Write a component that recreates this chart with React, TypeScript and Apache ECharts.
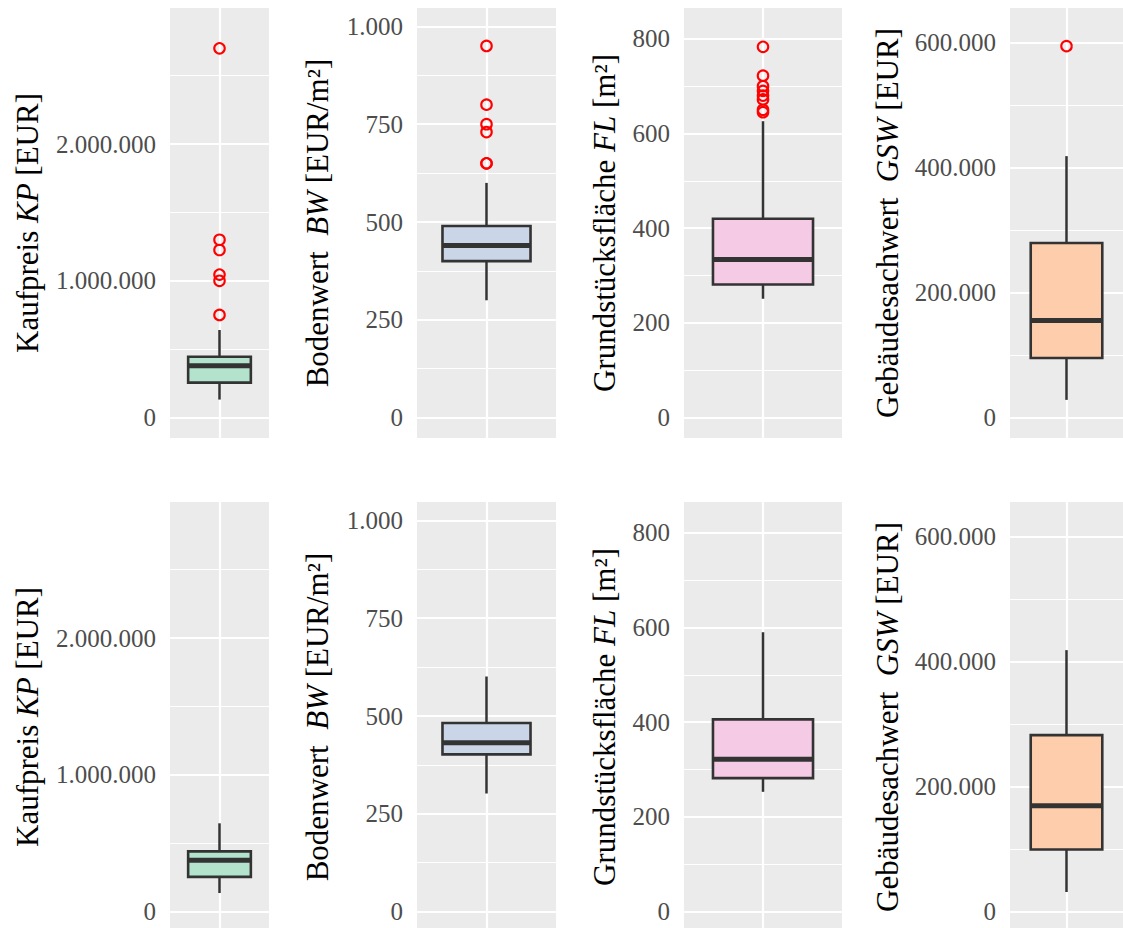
import React, { useEffect, useRef } from "react";
import * as echarts from "echarts";

// ---- data ----
const panelNames = ["KP", "BW", "FL", "GSW"];
const fillColors = ["#B3E2CD", "#CBD5E8", "#F4CAE4", "#FDCDAC"];
const titlePre = ["Kaufpreis ", "Bodenwert  ", "Grundstücksfläche ", "Gebäudesachwert  "];
const titleVar = ["KP", "BW", "FL", "GSW"];
const titlePost = [" [EUR]", " [EUR/m²]", " [m²]", " [EUR]"];

// [lower whisker, Q1, median, Q3, upper whisker]
const boxTopKP = [131000, 255000, 378000, 444000, 640000];
const boxTopBW = [300, 400, 440, 490, 600];
const boxTopFL = [251, 281, 334, 420, 626];
const boxTopGSW = [28000, 95000, 155000, 279000, 418000];

const boxBottomKP = [135000, 253000, 375000, 440000, 645000];
const boxBottomBW = [302, 402, 432, 482, 601];
const boxBottomFL = [253, 282, 322, 406, 590];
const boxBottomGSW = [31000, 99000, 169000, 282000, 418000];

const outliersKP = [2700000, 1300000, 1225000, 1045000, 1000000, 750000];
const outliersBW = [950, 800, 750, 730, 650, 650];
const outliersFL = [783, 722, 700, 690, 680, 672, 650, 645];
const outliersGSW = [594000];

const majorTicksKP = [0, 1000000, 2000000];
const majorTicksBW = [0, 250, 500, 750, 1000];
const majorTicksFL = [0, 200, 400, 600, 800];
const majorTicksGSW = [0, 200000, 400000, 600000];

const minorTicksKP = [500000, 1500000, 2500000];
const minorTicksBW = [125, 375, 625, 875];
const minorTicksFL = [100, 300, 500, 700];
const minorTicksGSW = [100000, 300000, 500000];

const yMin = [-150000, -52, -43, -33000];
const yMax = [2995000, 1047, 865, 655000];

// ---- layout ----
const gridLefts = [170, 417, 684, 1010];
const gridWidths = [99, 139, 158, 113];
const rowTops = [8, 502];
const rowHeight = 430;
const nameGaps = [127, 84, 64, 107];

const FONT = "'Liberation Serif', 'Times New Roman', serif";

const fmt = (v: number) => String(v).replace(/\B(?=(\d{3})+(?!\d))/g, ".");

export default function App() {
  const ref = useRef<HTMLDivElement>(null);

  useEffect(() => {
    if (!ref.current) return;
    const chart = echarts.init(ref.current, undefined, { renderer: "svg" });

    const topBoxes = [boxTopKP, boxTopBW, boxTopFL, boxTopGSW];
    const bottomBoxes = [boxBottomKP, boxBottomBW, boxBottomFL, boxBottomGSW];
    const outliers = [outliersKP, outliersBW, outliersFL, outliersGSW];
    const majors = [majorTicksKP, majorTicksBW, majorTicksFL, majorTicksGSW];
    const minors = [minorTicksKP, minorTicksBW, minorTicksFL, minorTicksGSW];

    const grids: any[] = [];
    const xAxes: any[] = [];
    const yAxes: any[] = [];
    const series: any[] = [];

    for (let row = 0; row < 2; row++) {
      for (let p = 0; p < 4; p++) {
        const idx = row * 4 + p;
        grids.push({
          left: gridLefts[p],
          top: rowTops[row],
          width: gridWidths[p],
          height: rowHeight,
          show: true,
          backgroundColor: "#EBEBEB",
          borderWidth: 0,
          containLabel: false,
        });
        xAxes.push({
          type: "value",
          gridIndex: idx,
          min: 0.4,
          max: 1.6,
          show: false,
          splitLine: { show: false },
        });
        yAxes.push({
          type: "value",
          gridIndex: idx,
          min: yMin[p],
          max: yMax[p],
          axisLine: { show: false },
          axisTick: { show: false },
          axisLabel: { show: false },
          splitLine: { show: false },
          name: `{r|${titlePre[p]}}{i|${titleVar[p]}}{r|${titlePost[p]}}`,
          nameLocation: "middle",
          nameRotate: 90,
          nameGap: nameGaps[p],
          nameTextStyle: {
            rich: {
              r: { fontFamily: FONT, fontSize: 31, color: "#000000" },
              i: { fontFamily: FONT, fontSize: 31, fontStyle: "italic", color: "#000000" },
            },
          },
        });

        // grid lines (major with labels, minor without) and centre vertical line
        const lineData: any[] = [];
        minors[p].forEach((v) =>
          lineData.push({ yAxis: v, lineStyle: { width: 1.1 }, label: { show: false } })
        );
        majors[p].forEach((v) =>
          lineData.push({
            yAxis: v,
            lineStyle: { width: 2.2 },
            label: {
              show: true,
              position: "start",
              distance: 14,
              formatter: fmt(v),
              fontFamily: FONT,
              fontSize: 25,
              color: "#4D4D4D",
            },
          })
        );
        lineData.push({ xAxis: 1, lineStyle: { width: 2.2 }, label: { show: false } });
        series.push({
          type: "line",
          xAxisIndex: idx,
          yAxisIndex: idx,
          data: [],
          z: 1,
          silent: true,
          markLine: {
            z: 1,
            silent: true,
            symbol: "none",
            animation: false,
            lineStyle: { color: "#FFFFFF", type: "solid" },
            emphasis: { disabled: true },
            data: lineData,
          },
        });

        const box = (row === 0 ? topBoxes : bottomBoxes)[p];
        const fill = fillColors[p];
        series.push({
          type: "custom",
          name: panelNames[p],
          xAxisIndex: idx,
          yAxisIndex: idx,
          z: 3,
          silent: true,
          data: [[1, ...box]],
          encode: { x: 0, y: [1, 2, 3, 4, 5] },
          renderItem: (params: any, api: any) => {
            const x = api.value(0);
            const lo = api.coord([x, api.value(1)]);
            const q1 = api.coord([x, api.value(2)]);
            const med = api.coord([x, api.value(3)]);
            const q3 = api.coord([x, api.value(4)]);
            const hi = api.coord([x, api.value(5)]);
            const left = api.coord([x - 0.38, api.value(3)])[0];
            const right = api.coord([x + 0.38, api.value(3)])[0];
            const stroke = "#333333";
            return {
              type: "group",
              children: [
                { type: "line", shape: { x1: hi[0], y1: hi[1], x2: q3[0], y2: q3[1] }, style: { stroke, lineWidth: 2.5 } },
                { type: "line", shape: { x1: q1[0], y1: q1[1], x2: lo[0], y2: lo[1] }, style: { stroke, lineWidth: 2.5 } },
                {
                  type: "rect",
                  shape: { x: left, y: q3[1], width: right - left, height: q1[1] - q3[1] },
                  style: { fill, stroke, lineWidth: 2.6 },
                },
                { type: "line", shape: { x1: left, y1: med[1], x2: right, y2: med[1] }, style: { stroke, lineWidth: 5 } },
              ],
            };
          },
        });

        if (row === 0) {
          series.push({
            type: "scatter",
            xAxisIndex: idx,
            yAxisIndex: idx,
            z: 4,
            silent: true,
            symbol: "circle",
            symbolSize: 10.5,
            itemStyle: { color: "rgba(0,0,0,0)", borderColor: "#FF0000", borderWidth: 2.1, opacity: 1 },
            data: outliers[p].map((v) => [1, v]),
          });
        }
      }
    }

    chart.setOption({
      animation: false,
      backgroundColor: "#FFFFFF",
      grid: grids,
      xAxis: xAxes,
      yAxis: yAxes,
      series,
    });

    return () => chart.dispose();
  }, []);

  return (
    <div style={{ position: "fixed", left: 0, top: 0, width: 1123, height: 928, overflow: "hidden", background: "#fff" }}>
      <div ref={ref} style={{ width: 1123, height: 940 }} />
    </div>
  );
}
